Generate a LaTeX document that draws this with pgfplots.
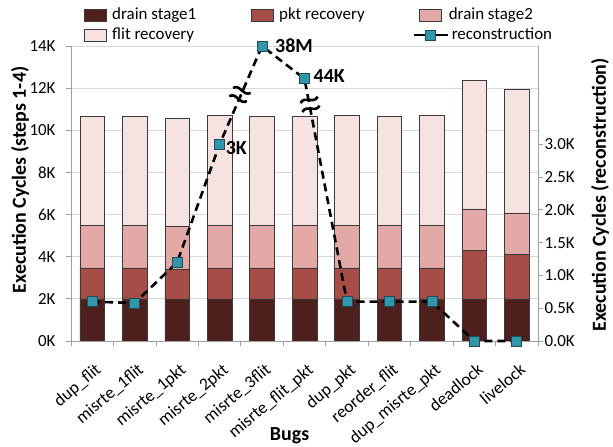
\documentclass[border=0pt]{standalone}
\usepackage{pgfplots}
\pgfplotsset{compat=1.18}
\usepackage{pgfplotstable}
\usepackage{fontspec}
\setmainfont{Carlito}
\definecolor{dsone}{HTML}{4D1F1D}
\definecolor{pktr}{HTML}{A64D48}
\definecolor{dstwo}{HTML}{E2A9A6}
\definecolor{flitr}{HTML}{F5E2E1}
\definecolor{recon}{HTML}{3196A9}
\definecolor{reconD}{HTML}{1E4E5A}
\definecolor{gridc}{HTML}{D9D9D9}
\definecolor{axc}{HTML}{A0A0A0}
\definecolor{bard}{HTML}{3A3A3A}

\pgfplotstableread{
x ds1 pkt ds2 flit recon
0 2000 1470 2010 5170 600
1 2000 1470 2010 5170 580
2 2000 1410 2020 5160 1200
3 2000 1470 2010 5220 3000
4 2000 1470 2010 5170 4500
5 2000 1470 2010 5200 4000
6 2000 1470 2010 5220 600
7 2000 1470 2010 5170 600
8 2000 1470 2010 5220 600
9 2000 2290 1980 6080 0
10 2000 2100 1980 5860 0
}\data

\pgfplotsset{
  base/.style={
    at={(71bp,106bp)}, anchor=south west,
    width=467bp, height=295bp, scale only axis,
    xmin=-0.5, xmax=10.5,
    tick align=outside,
    major tick length=5bp, minor tick length=5bp,
    tick style={axc, line width=0.8bp},
    axis line style={axc, line width=0.8bp},
    tick label style={font=\fontsize{17}{20}\selectfont},
    label style={font=\fontsize{20}{24}\selectfont\bfseries},
  },
  swatch/.style={legend image code/.code={
      \path[draw=none, fill=none] (-17bp,-6bp) rectangle (17bp,6bp);
      \draw[##1] (-11bp,-6bp) rectangle (11bp,6bp);}},
}
\newcommand{\breaksym}{\tikz{\draw[line width=2.6bp, solid] (-9bp,3bp) .. controls (-4.5bp,10bp) and (3.5bp,-1bp) .. (9bp,6bp); \draw[line width=2.6bp, solid] (-9bp,-6bp) .. controls (-3.5bp,1bp) and (4.5bp,-10bp) .. (9bp,-3bp);}}

\begin{document}
\begin{tikzpicture}
\path[use as bounding box] (0,0) rectangle (613bp,447bp);
\begin{axis}[base,
  ybar stacked, bar width=0.58,
  ymin=0, ymax=14000,
  scaled y ticks=false,
  axis x line*=bottom, axis y line*=left,
  xtick={0,...,10},
  xticklabels={dup\_flit,misrte\_1flit,misrte\_1pkt,misrte\_2pkt,misrte\_3flit,misrte\_flit\_pkt,dup\_pkt,reorder\_flit,dup\_misrte\_pkt,deadlock,livelock},
  major x tick style={draw=none},
  minor xtick={-0.5,0.5,...,10.5},
  xticklabel style={xshift=2bp, yshift=-16bp, rotate=40, anchor=north east, inner sep=0bp, font=\fontsize{17.5}{20}\selectfont},
  ytick={0,2000,...,14000},
  yticklabels={0K,2K,4K,6K,8K,10K,12K,14K},
  yticklabel style={xshift=-7bp},
  ymajorgrids, grid style={gridc, line width=0.8bp},
  xlabel={Bugs},
  xlabel style={at={(axis description cs:0.468,-0.322)}, anchor=center},
  ylabel={Execution Cycles (steps 1-4)},
  ylabel style={at={(axis description cs:-0.109,0.546)}, anchor=center},
]
\addplot[fill=dsone, draw=bard, line width=0.6bp] table[x=x,y=ds1]{\data};
\addplot[fill=pktr, draw=bard, line width=0.6bp] table[x=x,y=pkt]{\data};
\addplot[fill=dstwo, draw=bard, line width=0.6bp] table[x=x,y=ds2]{\data};
\addplot[fill=flitr, draw=bard, line width=0.6bp] table[x=x,y=flit]{\data};
\end{axis}

\begin{axis}[base,
  clip=false,
  ymin=0, ymax=4500,
  axis x line=none, axis y line*=right,
  ytick={0,500,...,3000},
  yticklabels={0.0K,0.5K,1.0K,1.5K,2.0K,2.5K,3.0K},
  yticklabel style={xshift=-2bp},
  ylabel={Execution Cycles (reconstruction)},
  ylabel style={at={(axis description cs:1.133,0.495)}, anchor=center},
  legend columns=3,
  legend cell align=left,
  legend style={at={(axis description cs:0.015,1.139)}, anchor=north west,
    draw=none, fill=none, inner sep=0pt, column sep=0pt, row sep=0pt,
    font=\fontsize{17}{20}\selectfont,
    nodes={inner xsep=0pt, inner ysep=2bp, text height=12bp, text depth=4bp}},
]
\addlegendimage{swatch, fill=dsone, draw=bard, line width=0.6bp}
\addlegendentry{\makebox[133bp][l]{drain stage1}}
\addlegendimage{swatch, fill=pktr, draw=bard, line width=0.6bp}
\addlegendentry{\makebox[133bp][l]{pkt recovery}}
\addlegendimage{swatch, fill=dstwo, draw=bard, line width=0.6bp}
\addlegendentry{\makebox[133bp][l]{drain stage2}}
\addlegendimage{swatch, fill=flitr, draw=bard, line width=0.6bp}
\addlegendentry{\makebox[133bp][l]{flit recovery}}
\addlegendimage{empty legend}
\addlegendentry{}
\addplot[black, line width=2.6bp, dash pattern=on 8bp off 5bp,
  mark=square*, mark size=5bp,
  mark options={solid, fill=recon, draw=reconD, line width=0.7bp},
  legend image code/.code={
    \path[draw=none, fill=none] (-17bp,-6bp) rectangle (17bp,6bp);
    \draw[solid, black, line width=2.6bp] (-17bp,0bp) -- (17bp,0bp);
    \draw[solid, fill=recon, draw=reconD, line width=0.7bp] (-5bp,-5bp) rectangle (5bp,5bp);}
] table[x=x,y=recon]{\data};
\addlegendentry{\hspace{3bp}reconstruction}
\node[anchor=west, inner sep=0pt, font=\fontsize{20}{24}\selectfont\bfseries] at (axis cs:3,3000) [xshift=6bp, yshift=-4bp] {3K};
\node[anchor=west, inner sep=0pt, font=\fontsize{20}{24}\selectfont\bfseries] at (axis cs:4,4500) [xshift=13bp, yshift=0bp] {38M};
\node[anchor=west, inner sep=0pt, font=\fontsize{20}{24}\selectfont\bfseries] at (axis cs:5,4000) [xshift=9bp, yshift=3bp] {44K};
\node[rotate=-25, inner sep=0pt] at (axis cs:3.48,3760) {\breaksym};
\node[rotate=11, inner sep=0pt] at (axis cs:5.13,3610) {\breaksym};
\end{axis}
\end{tikzpicture}
\end{document}
